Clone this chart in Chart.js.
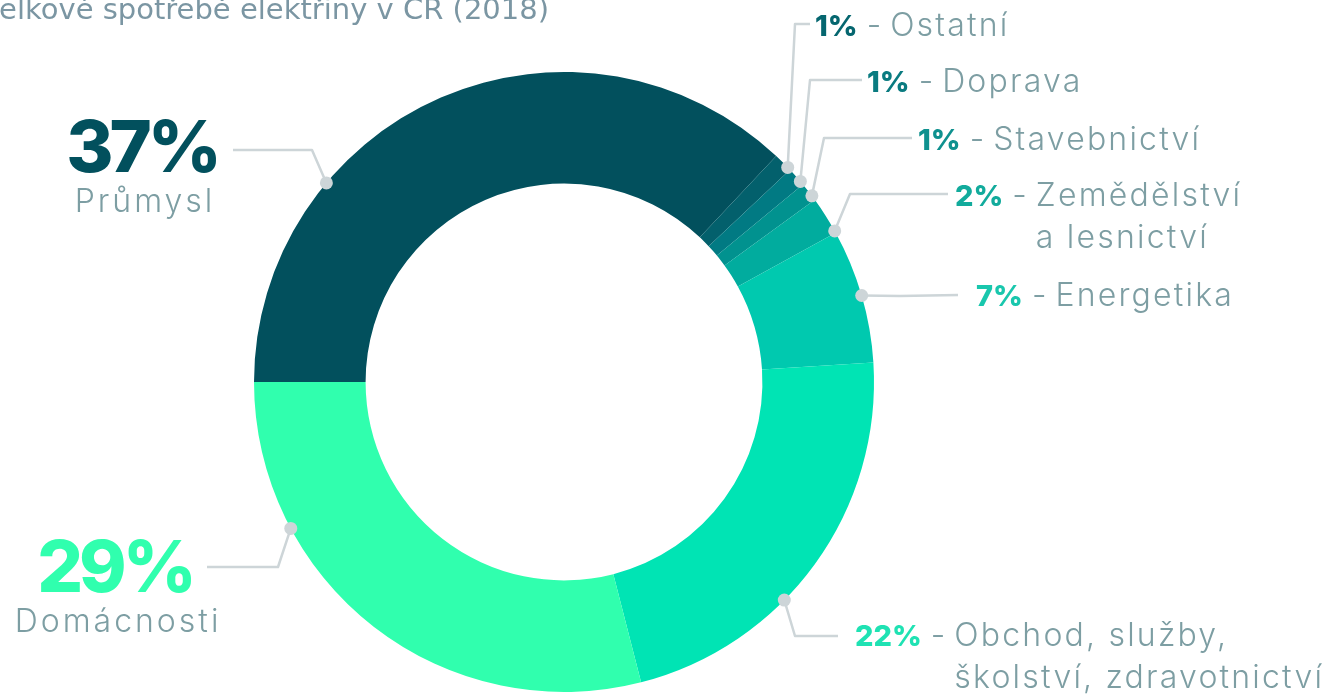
<!DOCTYPE html>
<html lang="cs">
  <head>
    <meta charset="UTF-8" />
    <title>Spotřeba elektřiny v ČR (2018)</title>
    <script src="https://cdn.jsdelivr.net/npm/chart.js"></script>
    <style>
      html, body { margin: 0; padding: 0; background: #fff; overflow: hidden; }
      #wrap { width: 1328px; height: 694px; position: relative; }
    </style>
  </head>
  <body>
    <div id="wrap"><canvas id="myChart" width="1328" height="694"></canvas></div>
    <script>
      // data
      const categories = ["Průmysl", "Ostatní", "Doprava", "Stavebnictví", "Zemědělství a lesnictví", "Energetika", "Obchod, služby, školství, zdravotnictví", "Domácnosti"];
      const shares = [37, 1, 1, 1, 2, 7, 22, 29];
      const labelLines = [["Průmysl"], ["Ostatní"], ["Doprava"], ["Stavebnictví"], ["Zemědělství", "a lesnictví"], ["Energetika"], ["Obchod, služby,", "školství, zdravotnictví"], ["Domácnosti"]];
      const titleText = "Podíl odvětví na celkové spotřebě elektřiny v ČR (2018)";

      const sliceColors = ["#02505d", "#03606c", "#017a83", "#01928f", "#01ac9e", "#00c9af", "#00e4b4", "#30ffae"];
      const pctColors = ["#02505d", "#05666f", "#0a7b80", "#0f918f", "#12ab9c", "#19c7ad", "#1fe2b3", "#30ffae"];

      // where the leader line touches the ring (fraction of the slice) and its elbow / end
      // big: true = big centred label on the left side
      const callouts = [
        { f: 0.30, elbow: [312, 150], end: [233, 150], big: true, cx: 144, y: 172 },
        { f: 0.83, elbow: [795, 24], end: [810, 24], x: 815, y: 36 },
        { f: 0.80, elbow: [810, 80], end: [862, 80], x: 867, y: 92 },
        { f: 0.75, elbow: [824, 138], end: [912, 138], x: 918, y: 150 },
        { f: 0.95, elbow: [850, 194], end: [948, 194], x: 955, y: 206 },
        { f: 0.50, elbow: [900, 296], end: [958, 295], x: 976, y: 306 },
        { f: 0.61, elbow: [795, 636], end: [838, 636], x: 855, y: 646 },
        { f: 0.73, elbow: [278, 567], end: [207, 567], big: true, cx: 117, y: 592 },
      ];

      const LINE = "#cdd5d8";
      const GREY = "#7d9ea3";
      const SANS = "Inter, 'Open Sans', sans-serif";

      const calloutPlugin = {
        id: "callouts",
        afterDraw(chart) {
          const ctx = chart.ctx;
          const arcs = chart.getDatasetMeta(0).data;
          ctx.save();

          // title (runs off the top/left edge like the original)
          ctx.font = "29px 'DejaVu Sans'";
          ctx.fillStyle = "#7b96a3";
          ctx.textAlign = "right";
          ctx.textBaseline = "alphabetic";
          ctx.fillText(titleText, 549, 19);

          arcs.forEach((arc, i) => {
            const c = callouts[i];
            const p = arc.getProps(["x", "y", "startAngle", "endAngle", "outerRadius"], true);
            const a = p.startAngle + c.f * (p.endAngle - p.startAngle);
            const dx = p.x + Math.cos(a) * p.outerRadius;
            const dy = p.y + Math.sin(a) * p.outerRadius;

            ctx.strokeStyle = LINE;
            ctx.lineWidth = 2.5;
            ctx.lineJoin = "round";
            ctx.beginPath();
            ctx.moveTo(dx, dy);
            ctx.lineTo(c.elbow[0], c.elbow[1]);
            ctx.lineTo(c.end[0], c.end[1]);
            ctx.stroke();

            ctx.fillStyle = LINE;
            ctx.beginPath();
            ctx.arc(dx, dy, 6.5, 0, Math.PI * 2);
            ctx.fill();

            const pct = shares[i] + "%";
            if (c.big) {
              ctx.textAlign = "center";
              ctx.letterSpacing = "-4px";
              ctx.font = "800 72px " + SANS;
              ctx.fillStyle = pctColors[i];
              ctx.fillText(pct, c.cx - 2, c.y);
              ctx.letterSpacing = "3px";
              ctx.font = "300 32px " + SANS;
              ctx.fillStyle = GREY;
              ctx.fillText(labelLines[i][0], c.cx + 1, c.y + 40);
            } else {
              ctx.textAlign = "left";
              ctx.letterSpacing = "0px";
              ctx.font = "800 29px " + SANS;
              ctx.fillStyle = pctColors[i];
              ctx.fillText(pct, c.x, c.y);
              let x = c.x + ctx.measureText(pct).width;
              ctx.font = "300 32px " + SANS;
              ctx.fillStyle = GREY;
              const dash = " - ";
              ctx.fillText(dash, x, c.y);
              x += ctx.measureText(dash).width;
              ctx.letterSpacing = "2.2px";
              labelLines[i].forEach((t, k) => ctx.fillText(t, x, c.y + k * 42));
            }
          });
          ctx.restore();
        },
      };

      const ctx = document.getElementById("myChart").getContext("2d");
      new Chart(ctx, {
        type: "doughnut",
        data: {
          labels: categories,
          datasets: [{ data: shares, backgroundColor: sliceColors, borderWidth: 0 }],
        },
        options: {
          responsive: false,
          animation: false,
          rotation: -90,
          cutout: "64%",
          layout: { padding: { left: 254, right: 454, top: 72, bottom: 2 } },
          plugins: { legend: { display: false }, tooltip: { enabled: false } },
        },
        plugins: [calloutPlugin],
      });
    </script>
  </body>
</html>
